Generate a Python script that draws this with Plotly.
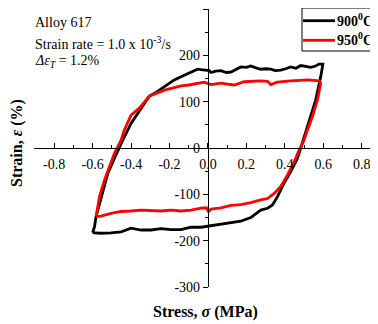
import plotly.graph_objects as go

# ---- data ----
strain_900 = [-0.600, -0.590, -0.582, -0.564, -0.547, -0.521, -0.486, -0.461, -0.443, -0.400,
              -0.350, -0.322, -0.305, -0.270, -0.244, -0.210, -0.175, -0.140, -0.105, -0.054,
              -0.036, 0.007, 0.016, 0.040, 0.068, 0.095, 0.120, 0.145, 0.171, 0.200, 0.223,
              0.250, 0.275, 0.300, 0.327, 0.350, 0.379, 0.405, 0.431, 0.458, 0.483, 0.510,
              0.535, 0.560, 0.578, 0.598, 0.587, 0.561, 0.535, 0.509, 0.483, 0.466, 0.431,
              0.396, 0.362, 0.336, 0.310, 0.275, 0.250, 0.223, 0.171, 0.120, 0.068, 0.016,
              -0.036, -0.088, -0.140, -0.192, -0.244, -0.296, -0.348, -0.400, -0.452, -0.504,
              -0.556, -0.590, -0.600]
stress_900 = [-183, -170, -148, -119, -91, -55, -22, 3, 17, 53,
              85, 104, 112, 120, 127, 137, 147, 154, 161, 170,
              169, 167, 163, 166, 167, 163, 164, 170, 175, 174, 177,
              173, 170, 171, 170, 167, 168, 171, 175, 172, 178, 176,
              174, 177, 181, 181, 154, 104, 68, 32, 0, -22, -51,
              -76, -105, -123, -130, -134, -142, -150, -158, -161, -164, -168,
              -171, -171, -176, -176, -174, -177, -177, -173, -181, -183,
              -184, -183, -183]

strain_950 = [-0.582, -0.575, -0.564, -0.538, -0.512, -0.486, -0.452, -0.435, -0.400, -0.357,
              -0.305, -0.265, -0.227, -0.180, -0.140, -0.100, -0.054, -0.019, 0.016, 0.068,
              0.100, 0.137, 0.189, 0.230, 0.275, 0.310, 0.327, 0.360, 0.400, 0.431, 0.475,
              0.518, 0.578, 0.587, 0.570, 0.544, 0.518, 0.500, 0.475, 0.449, 0.414, 0.379,
              0.345, 0.310, 0.275, 0.223, 0.171, 0.120, 0.068, 0.016, 0.003, -0.008, -0.036,
              -0.088, -0.140, -0.192, -0.244, -0.296, -0.348, -0.400, -0.452, -0.504, -0.556,
              -0.582]
stress_950 = [-148, -130, -105, -69, -40, -11, 17, 39, 71, 86,
              112, 119, 125, 130, 134, 136, 140, 142, 137, 140,
              138, 136, 143, 144, 145, 144, 137, 142, 144, 145, 146,
              147, 145, 140, 104, 68, 39, 17, -4, -30, -58, -83,
              -98, -109, -112, -118, -122, -124, -129, -132, -137, -129, -130,
              -134, -136, -134, -136, -135, -134, -136, -137, -141, -147,
              -148]

series_names = ["900<sup>0</sup>C", "950<sup>0</sup>C"]
series_colors = ["black", "red"]
x_tick_vals = [-0.8, -0.6, -0.4, -0.2, 0.0, 0.2, 0.4, 0.6, 0.8]
x_tick_text = ["-0.8", "-0.6", "-0.4", "-0.2", "0.0", "0.2", "0.4", "0.6", "0.8"]
x_minor_vals = [-0.9, -0.7, -0.5, -0.3, -0.1, 0.1, 0.3, 0.5, 0.7]
y_tick_vals = [-300, -200, -100, 0, 100, 200, 300]
y_tick_text = ["-300", "-200", "-100", "0", "100", "200", "300"]
y_minor_vals = [-250, -150, -50, 50, 150, 250]

FONT = "Liberation Serif, Times New Roman, serif"

fig = go.Figure()
fig.add_trace(go.Scatter(x=strain_900, y=stress_900, mode="lines", name=series_names[0],
                         line=dict(color=series_colors[0], width=2.8), showlegend=False))
fig.add_trace(go.Scatter(x=strain_950, y=stress_950, mode="lines", name=series_names[1],
                         line=dict(color=series_colors[1], width=2.8), showlegend=False))

x_range = [-0.905, 0.885]
y_range = [-300, 300]
ypos = (0 - x_range[0]) / (x_range[1] - x_range[0])

# page has an 8px body margin; figure is sized so the page fills the window
fig.update_layout(
    width=370, height=316,
    margin=dict(l=26, r=0, t=1, b=37),
    plot_bgcolor="white", paper_bgcolor="white",
    font=dict(family=FONT, size=14, color="black"),
    showlegend=False,
    xaxis=dict(range=x_range, anchor="free", position=0.5, showline=True,
               linecolor="black", linewidth=1, showgrid=False, zeroline=False,
               tickmode="array", tickvals=x_tick_vals, ticktext=x_tick_text,
               ticks="inside", ticklen=5, tickcolor="black", tickwidth=1,
               minor=dict(tickmode="array", tickvals=x_minor_vals, ticks="inside",
                          ticklen=3, tickcolor="black", tickwidth=1),
               tickfont=dict(family=FONT, size=14, color="black"),
               ticklabelstandoff=3),
    yaxis=dict(range=y_range, anchor="free", position=ypos, showline=True,
               linecolor="black", linewidth=1, showgrid=False, zeroline=False,
               tickmode="array", tickvals=y_tick_vals, ticktext=y_tick_text,
               ticks="outside", ticklen=5, tickcolor="black", tickwidth=1,
               minor=dict(tickmode="array", tickvals=y_minor_vals, ticks="outside",
                          ticklen=3, tickcolor="black", tickwidth=1),
               tickfont=dict(family=FONT, size=14, color="black")),
)

def px2paper(px, py):
    # page pixel -> paper coordinates (plot area spans page x 34..378, y 9..287)
    return (px - 34) / 344.0, (287 - py) / 278.0

anns = [
    ("Alloy 617", 33, 22.7),
    ("Strain rate = 1.0 x 10<sup>-3</sup>/s", 33, 42.7),
    ("<i>Δε<sub>T</sub></i> = 1.2%", 33, 61.7),
]
for text, px, py in anns:
    xp, yp = px2paper(px, py)
    fig.add_annotation(x=xp, y=yp, xref="paper", yref="paper", text=text, showarrow=False,
                       xanchor="left", yanchor="middle", font=dict(family=FONT, size=14, color="black"))

xp, yp = px2paper(205, 311.7)
fig.add_annotation(x=xp, y=yp, xref="paper", yref="paper",
                   text="<b>Stress, <i>σ</i> (MPa)</b>", showarrow=False,
                   xanchor="center", yanchor="middle",
                   font=dict(family=FONT, size=16, color="black"))
xp, yp = px2paper(17, 143)
fig.add_annotation(x=xp, y=yp, xref="paper", yref="paper",
                   text="<b>Strain, <i>ε</i> (%)</b>", showarrow=False, textangle=-90,
                   xanchor="center", yanchor="middle", borderpad=0,
                   font=dict(family=FONT, size=16, color="black"))

# legend box drawn manually (compact, like the reference)
bx0, by0 = px2paper(302, 8)
bx1, by1 = px2paper(375, 51)
fig.add_shape(type="rect", xref="paper", yref="paper", x0=bx0, y0=by1, x1=bx1, y1=by0,
              line=dict(color="black", width=1), fillcolor="white", layer="above")
for i, (name, col) in enumerate(zip(series_names, series_colors)):
    ly = 20.7 + i * 19.6
    lx0, lyp = px2paper(303, ly)
    lx1, _ = px2paper(335, ly)
    fig.add_shape(type="line", xref="paper", yref="paper", x0=lx0, x1=lx1, y0=lyp, y1=lyp,
                  line=dict(color=col, width=2.8), layer="above")
    tx, ty = px2paper(335.5, ly - 1)
    fig.add_annotation(x=tx, y=ty, xref="paper", yref="paper", text="<b>" + name + "</b>",
                       showarrow=False, xanchor="left", yanchor="middle", borderpad=0,
                       font=dict(family=FONT, size=14, color="black"))

fig.write_html("out.html")
